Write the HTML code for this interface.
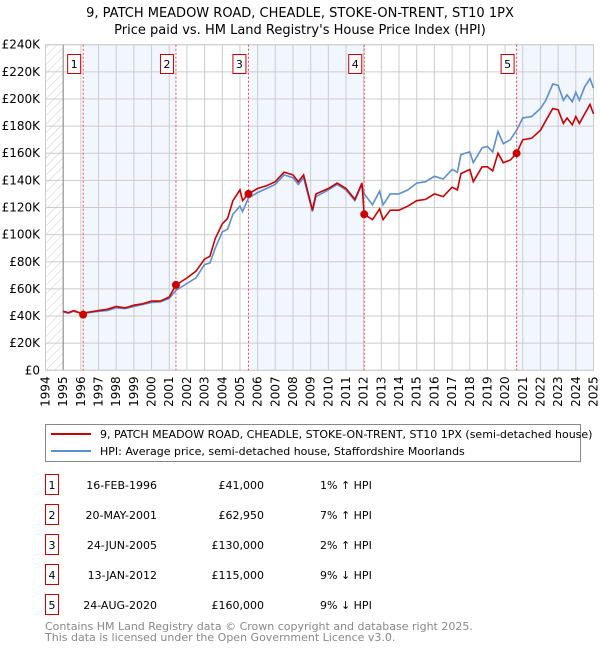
<!DOCTYPE html>
<html><head><meta charset="utf-8"><style>
body{margin:0;background:#fff;font-family:"Liberation Sans","DejaVu Sans",sans-serif;}
svg text{font-family:"DejaVu Sans","Liberation Sans",sans-serif;}
</style></head><body>
<svg id="chart" width="600" height="650" viewBox="0 0 600 650" xmlns="http://www.w3.org/2000/svg">
<defs><pattern id="hatch" width="6" height="6" patternUnits="userSpaceOnUse" patternTransform="rotate(45)"><line x1="0" y1="0" x2="0" y2="6" stroke="#ccc" stroke-width="1"/></pattern></defs>
<text x="300" y="17" font-size="13" text-anchor="middle">9, PATCH MEADOW ROAD, CHEADLE, STOKE-ON-TRENT, ST10 1PX</text>
<text x="300" y="34" font-size="13" text-anchor="middle">Price paid vs. HM Land Registry's House Price Index (HPI)</text>
<g id="bands"></g><g id="grid"></g><g id="axes"></g><g id="series"></g><g id="markers"></g>
<g>
<rect x="45.5" y="424.5" width="535" height="37" fill="#fff" stroke="#888"/>
<line x1="51" y1="434" x2="91" y2="434" stroke="#cc0000" stroke-width="2"/>
<text x="100" y="438" font-size="11">9, PATCH MEADOW ROAD, CHEADLE, STOKE-ON-TRENT, ST10 1PX (semi-detached house)</text>
<line x1="51" y1="451" x2="91" y2="451" stroke="#5b8fd0" stroke-width="2"/>
<text x="100" y="455" font-size="11">HPI: Average price, semi-detached house, Staffordshire Moorlands</text>
</g>
<g id="table"></g>
<text x="45" y="630" font-size="11" fill="#888">Contains HM Land Registry data © Crown copyright and database right 2025.</text>
<text x="45" y="641" font-size="11" fill="#888">This data is licensed under the Open Government Licence v3.0.</text>
</svg>
<script>
const dates=[1995,1995.3,1995.6,1996,1996.5,1997,1997.5,1998,1998.5,1999,1999.5,2000,2000.5,2001,2001.38,2002,2002.5,2003,2003.3,2003.6,2004,2004.3,2004.6,2005,2005.15,2005.48,2006,2006.5,2007,2007.5,2008,2008.3,2008.6,2009.1,2009.3,2010,2010.5,2011,2011.5,2011.9,2012.03,2012.5,2012.9,2013.1,2013.5,2014,2014.5,2015,2015.5,2016,2016.5,2017,2017.3,2017.5,2018,2018.2,2018.7,2019,2019.3,2019.6,2019.9,2020.3,2020.65,2021,2021.5,2022,2022.3,2022.7,2023,2023.3,2023.5,2023.8,2024,2024.2,2024.5,2024.8,2025];
const hpi=[43,42,43.5,42,42.5,43.5,44,46,45.5,47,48.5,50,50.5,53,59,64,68,78,79,90,102,104,115,121,117,127,131,134,137,144,142,137,142,117,128,133,137,133,125,137,130,122,132,122,130,130,133,138,139,143,141,148,146,159,161,153,164,165,161,176,167,170,177,186,187,193,199,211,210,199,203,198,205,199,209,215,208];
const price=[43.5,42.5,44,42,43,44,45,47,46,48,49,51,51,54,62.95,68,73,82,84,97,108,112,125,133,125,130,134,136,139,146,144,139,144,118,130,134,138,134,126,138,115,111,119,111,118,118,121,125,126,130,128,135,133,145,148,139,150,150,147,160,153,155,160,170,171,177,184,193,192,182,186,181,187,182,189,196,189];
const saleDates=[1996.13,2001.38,2005.48,2012.03,2020.65];
const salePrices=[41,62.95,130,115,160];
const saleLabels=["16-FEB-1996","20-MAY-2001","24-JUN-2005","13-JAN-2012","24-AUG-2020"];
const salePriceText=["£41,000","£62,950","£130,000","£115,000","£160,000"];
const saleHpiText=["1% ↑ HPI","7% ↑ HPI","2% ↑ HPI","9% ↓ HPI","9% ↓ HPI"];
const yTicks=[0,20,40,60,80,100,120,140,160,180,200,220,240];
const xTicks=[];for(let y=1994;y<=2025;y++)xTicks.push(y);
const X0=45.5,X1=593.5,Y0=370.3,Y1=44.7;
const xs=t=>X0+(t-1994)/31*(X1-X0);
const ys=v=>Y0-v/240*(Y0-Y1);
const NS="http://www.w3.org/2000/svg";
function mk(tag,attrs,parent,txt){const e=document.createElementNS(NS,tag);for(const k in attrs)e.setAttribute(k,attrs[k]);if(txt!==undefined)e.textContent=txt;document.getElementById(parent).appendChild(e);return e;}
let e=mk('rect',{x:X0,y:Y1,width:xs(1995)-X0,height:Y0-Y1,fill:'url(#hatch)'},'bands');


const bEdges=[saleDates[0],saleDates[1],saleDates[2],saleDates[3],saleDates[4],2025];
for(let i=0;i<bEdges.length-1;i+=2){
 e=mk('rect',{x:xs(bEdges[i]),y:Y1,width:xs(bEdges[i+1])-xs(bEdges[i]),height:Y0-Y1,fill:'#f2f6fe'},'bands');
 
 
}
yTicks.forEach(v=>{
 e=mk('line',{x1:X0,x2:X1,y1:ys(v),y2:ys(v),stroke:'#ccc','stroke-width':1},'grid');
 
 
 e=mk('text',{x:40,y:ys(v)+4,'font-size':12,'text-anchor':'end'},'axes',(v===0?'£0':'£'+v+'K'));
 
 
});
xTicks.forEach(t=>{
 e=mk('line',{x1:xs(t),x2:xs(t),y1:Y1,y2:Y0,stroke:'#ccc','stroke-width':1},'grid');
 
 
 e=mk('text',{x:0,y:0,'font-size':12,'text-anchor':'end',transform:`translate(${xs(t)+4},${Y0+6}) rotate(-90)`},'axes',String(t));
 
 
});
mk('line',{x1:xs(1995),x2:xs(1995),y1:Y1,y2:Y0,stroke:'#888'},'axes');
mk('line',{x1:X1,x2:X1,y1:Y1,y2:Y0,stroke:'#888'},'axes');
mk('rect',{x:X0,y:Y1,width:X1-X0,height:Y0-Y1,fill:'none',stroke:'#ccc'},'axes');
function path(arr){return arr.map((v,i)=>(i?'L':'M')+xs(dates[i]).toFixed(1)+','+ys(v).toFixed(1)).join('');}
e=mk('path',{d:path(hpi),fill:'none',stroke:'#5b8fd0','stroke-width':1.6},'series');


e=mk('path',{d:path(price),fill:'none',stroke:'#cc0000','stroke-width':1.6},'series');


saleDates.forEach((d,i)=>{
 e=mk('line',{x1:xs(d),x2:xs(d),y1:Y1,y2:Y0,stroke:'#e44','stroke-dasharray':'2,2','stroke-width':1},'markers');
 
 
 e=mk('circle',{cx:xs(d),cy:ys(salePrices[i]),r:4,fill:'#cc0000'},'markers');
 
 
 e=mk('rect',{x:xs(d)-15.5,y:54.5,width:13,height:19,fill:'#fff',stroke:'#cc0000'},'markers');
 
 
 e=mk('text',{x:xs(d)-9,y:68,'font-size':11,'text-anchor':'middle'},'markers',String(i+1));
 
 
 const ry=[483,513,543,573,603][i];
 e=mk('rect',{x:45.5,y:ry-8.5,width:13,height:20,fill:'#fff',stroke:'#cc0000'},'table');
 
 
 e=mk('text',{x:52,y:ry+6,'font-size':11,'text-anchor':'middle'},'table',String(i+1));
 
 
 e=mk('text',{x:157,y:ry+6,'font-size':11,'text-anchor':'end'},'table',saleLabels[i]);
 
 
 e=mk('text',{x:264,y:ry+6,'font-size':11,'text-anchor':'end'},'table',salePriceText[i]);
 
 
 e=mk('text',{x:320,y:ry+6,'font-size':11},'table',saleHpiText[i]);
 
 
});
</script>
</body></html>
